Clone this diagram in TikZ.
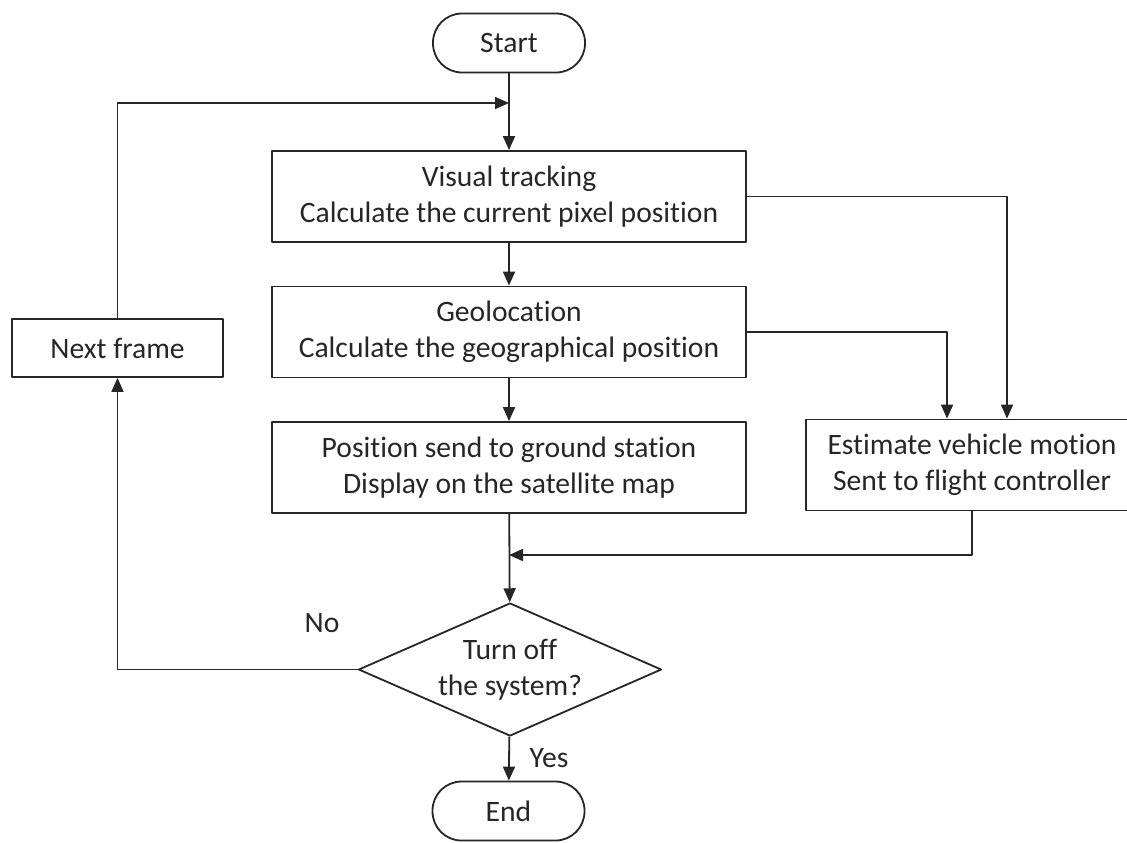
\documentclass[tikz,border=0pt]{standalone}
\usepackage{fontspec}
\setmainfont{Carlito}[Ligatures=NoCommon]
\usetikzlibrary{shapes.geometric}
\usetikzlibrary{arrows.meta}
\tikzset{b/.style={draw, rectangle, align=center, inner sep=0pt, minimum width=237pt, minimum height=45.5pt}}
\tikzset{t/.style={draw, rectangle, rounded corners=14.5pt, inner sep=0pt, minimum width=76pt, minimum height=29.5pt}}
\tikzset{d/.style={draw, diamond, align=center, inner sep=0pt, shape aspect=2.3, minimum width=151.5pt, minimum height=66.5pt}}

\begin{document}
\begin{tikzpicture}[x=0.5pt, y=-0.5pt, line width=0.9pt, line join=round, >={Triangle[length=7pt,width=6pt]}, color=black!85, font=\fontsize{14.8}{18}\selectfont]
            \useasboundingbox (0,0) rectangle (1127,842);

            \node [t] (S) at (509,43) {Start};

            \node [b] (V) at (509,196.5) {Visual tracking\\Calculate the current pixel position};

            \node [b] (G) at (509,332) {Geolocation\\Calculate the geographical position};

            \node [b] (P) at (509,467.5) {Position send to ground station\\Display on the satellite map};

            \node [b, minimum width=166pt, minimum height=45.5pt] (M) at (972,465) {Estimate vehicle motion\\Sent to flight controller};

            \node [b, minimum width=105.5pt, minimum height=29pt] (F) at (117.5,348) {Next frame};

            \node [d] (Q) at (510,669.5) {Turn off\\the system?};

            \node [t] (E) at (508.5,811) {End};

            \node (no) at (322,623) {No};
            \node (yes) at (549,758) {Yes};

            \coordinate (top) at (509,103);
            \coordinate (join) at (509,555);

            \draw [->] (S) -- (V);
            \draw [->] (V) -- (G);
            \draw [->] (G) -- (P);
            \draw [->] (P) -- (Q);
            \draw [->] (Q) -- (E);

            \draw [->] (V.east) -| ([xshift=17.5pt]M.north);
            \draw [->] (G.east) -| ([xshift=-12.5pt]M.north);
            \draw [->] (M.south) |- (join);

            \draw [->] (Q.west) -| (F.south);
            \draw [->] (F.north) |- (top);
          \end{tikzpicture}
\end{document}
